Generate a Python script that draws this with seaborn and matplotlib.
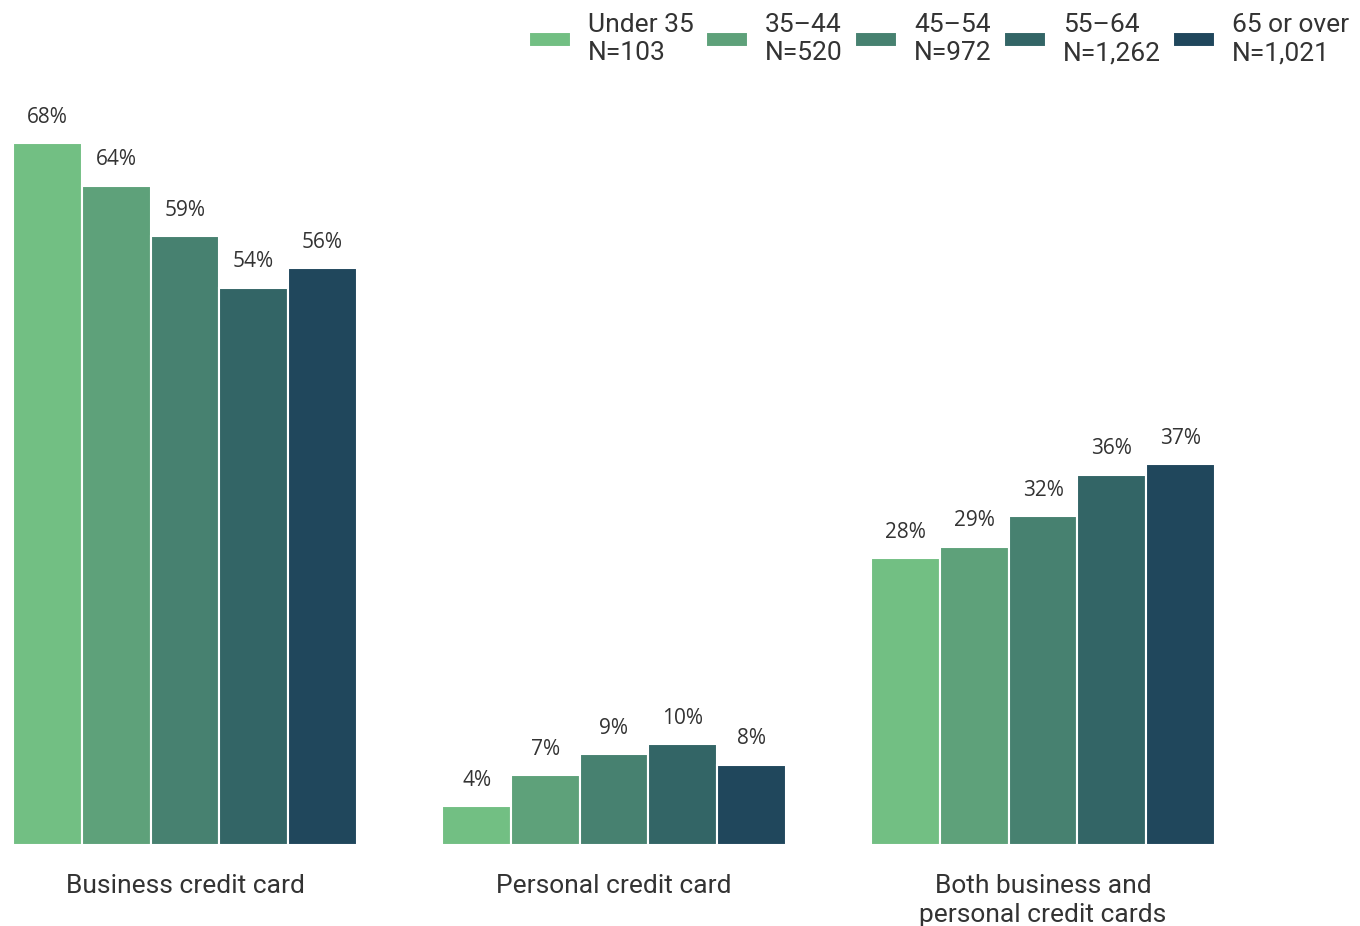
import matplotlib
matplotlib.use("Agg")
import matplotlib.pyplot as plt
import seaborn as sns
import pandas as pd

categories = ["Business credit card", "Personal credit card", "Both business and\npersonal credit cards"]
age_groups = ["Under 35\nN=103", "35–44\nN=520", "45–54\nN=972", "55–64\nN=1,262", "65 or over\nN=1,021"]
business = [68.0, 63.9, 59.0, 54.0, 55.9]
personal = [3.8, 6.8, 8.8, 9.8, 7.8]
both = [27.8, 28.9, 31.9, 35.9, 36.9]
colors = ["#72bf83", "#5ea17a", "#478170", "#336566", "#20475c"]

rows = []
for cat, vals in zip(categories, [business, personal, both]):
    for age, v in zip(age_groups, vals):
        rows.append({"category": cat, "age": age, "value": v})
df = pd.DataFrame(rows)

sns.set_theme(style="white")
plt.rcParams["font.family"] = ["Roboto", "DejaVu Sans"]
text_color = "#333333"

fig = plt.figure(figsize=(13.6, 9.26), dpi=100)
ax = fig.add_axes([0.0, 1 - 845 / 926, 1.0, 745 / 926])
sns.barplot(data=df, x="category", y="value", hue="age", palette=colors,
            saturation=1, edgecolor="white", linewidth=1.5, ax=ax, width=0.8)

for cont in ax.containers:
    ax.bar_label(cont, labels=[f"{round(v.get_height())}%" for v in cont],
                 padding=11, fontsize=15, color=text_color,
                 family=["Open Sans", "DejaVu Sans"])

ax.set_xlim(-185 / 429, (1360 - 185) / 429)
ax.set_ylim(0, 745 / 10.32)
ax.set_xlabel("")
ax.set_ylabel("")
ax.set_yticks([])
ax.tick_params(axis="x", length=0, pad=21, labelsize=19, colors=text_color)
for t in ax.get_xticklabels():
    t.set_linespacing(1.25)
sns.despine(ax=ax, left=True, bottom=True)

leg = ax.legend(loc="upper right", bbox_to_anchor=(1.0, 1 + 98 / 745), ncol=5,
                frameon=False, fontsize=19, handlelength=1.6, handleheight=0.5,
                handletextpad=0.65, columnspacing=0.45, borderaxespad=0)
for t in leg.get_texts():
    t.set_color(text_color)
    t.set_linespacing(1.25)

fig.savefig("out.png", dpi=100)
